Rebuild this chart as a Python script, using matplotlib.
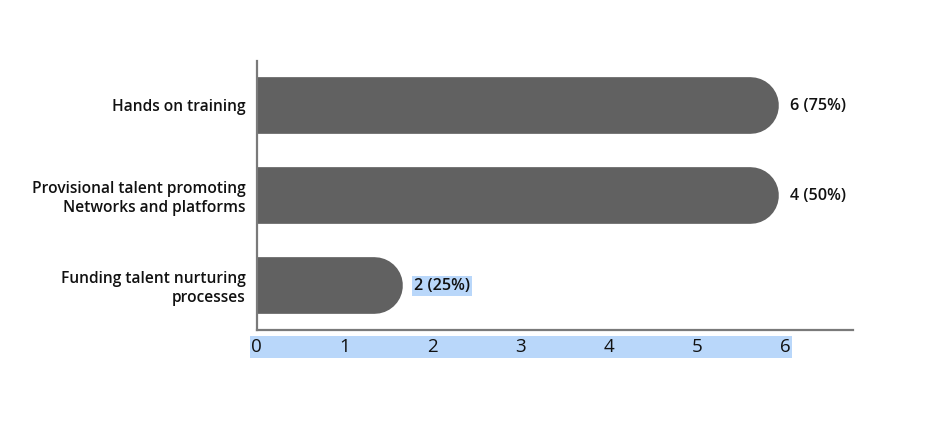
import numpy as np
import matplotlib
matplotlib.use('Agg')
import matplotlib.pyplot as plt
from matplotlib.patches import Rectangle

plt.rcParams['font.family'] = ['Open Sans', 'DejaVu Sans']

categories = ['Hands on training',
              'Provisional talent promoting\nNetworks and platforms',
              'Funding talent nurturing\nprocesses']
bar_lengths = [5.92, 5.92, 1.66]   # as drawn in the picture
counts = [6, 4, 2]
percents = [75, 50, 25]
xticks = [0, 1, 2, 3, 4, 5, 6]

bar_color = '#616161'
axis_color = '#7a7a7a'
highlight = '#b9d7fa'

fig = plt.figure(figsize=(9.52, 4.28), dpi=100)
W, H = 952, 428
ax = fig.add_axes([256.5 / W, 98 / H, (853 - 256.5) / W, 269 / H])
ax.set_xlim(0, (853 - 256.5) / 88.1)
ax.set_ylim(2.5, -0.489)

# bar thickness in px -> points, round cap gives the rounded right end
bar_px = 56.7
lw = bar_px * 72 / fig.dpi
px_per_unit = ax.transData.transform([[1, 0]])[0][0] - ax.transData.transform([[0, 0]])[0][0]
r = (bar_px / 2) / px_per_unit

y = np.arange(len(categories))
for yi, v in zip(y, bar_lengths):
    ax.plot([-1, v - r], [yi, yi], color=bar_color, lw=lw,
            solid_capstyle='round', zorder=2)

for i, (yi, v) in enumerate(zip(y, bar_lengths)):
    box = None
    if i == 2:
        box = dict(boxstyle='square,pad=0.12', facecolor=highlight, edgecolor='none')
    ax.annotate(f'{counts[i]} ({percents[i]}%)', xy=(v, yi), xytext=(8.4, -1),
                textcoords='offset points', ha='left', va='center',
                fontsize=11.6, fontweight='semibold', color='#111111', bbox=box)

ax.set_yticks(y)
ax.set_yticklabels(categories, fontsize=11.2, fontweight='semibold',
                   color='#111111', linespacing=1.25)
ax.set_xticks(xticks)
ax.set_xticklabels([str(t) for t in xticks], fontsize=13.5, color='#111111')
ax.tick_params(axis='both', length=0)
ax.tick_params(axis='y', pad=8)
ax.tick_params(axis='x', pad=6)

for s in ['top', 'right']:
    ax.spines[s].set_visible(False)
for s in ['left', 'bottom']:
    ax.spines[s].set_color(axis_color)
    ax.spines[s].set_linewidth(1.6)

# selection-like highlight behind the x tick labels
fig.patches.append(Rectangle((250 / W, 70.3 / H), (792 - 250) / W, 22 / H,
                             transform=fig.transFigure, facecolor=highlight,
                             edgecolor='none', zorder=-1))

fig.savefig('out.png', dpi=100)
